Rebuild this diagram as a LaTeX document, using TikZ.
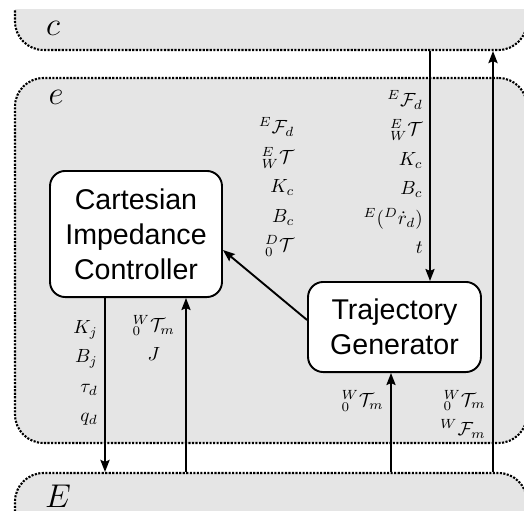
\documentclass[tikz,border=0pt]{standalone}
\usepackage{fontspec}
\newfontfamily\boxfont{Liberation Sans}
\usetikzlibrary{positioning,fit,calc,arrows.meta,backgrounds}
\definecolor{regionFill}{gray}{0.90}
\definecolor{boxFill}{gray}{1}

\begin{document}
\begin{tikzpicture}[
	x=0.525pt, y=-0.525pt,
	>={Stealth[length=6.3pt, width=4.8pt, inset=1pt]},
	region/.style={draw, line width=1.1pt, dash pattern=on 1.1pt off 0.75pt,
		fill=regionFill, rounded corners=15pt, inner sep=0pt},
	regionlabel/.style={font=\LARGE, inner sep=0pt},
	block/.style={draw, line width=1pt, fill=boxFill, rounded corners=8pt,
		align=center, font=\boxfont\fontsize{15}{18.4}\selectfont},
	sig/.style={->, line width=1pt},
	lbl/.style={font=\fontsize{10}{15.5}\selectfont, align=right},
	]
	\useasboundingbox (0,0) rectangle (524,511);
	\begin{scope}
	\clip (0,9) rectangle (524,511);
	\node [region, fit={(15,-40) (527,50)}] (cReg) {};
	\node [region, fit={(15,78) (527,443)}] (eReg) {};
	\node [region, fit={(15,473) (527,560)}] (EReg) {};
	\end{scope}
	\node [regionlabel] (cName) at (53,28) {$c$};
	\node [regionlabel] (eName) at (56,97) {$e$};
	\node [regionlabel] (EName) at (58,496) {$E$};
	
	\node [block, minimum width=90.3pt, minimum height=66.2pt] (cic) at (136,234) {Cartesian\\Impedance\\Controller};
	\node [block, minimum width=90.8pt, minimum height=47.3pt] (tg) at (394.5,327) {Trajectory\\Generator};
	
	\coordinate (cicOut) at ($(cic.south)+(-31,0)$);
	\coordinate (cicIn) at ($(cic.south)+(50,0)$);
	\coordinate (tgIn) at ($(tg.south)+(-3.5,0)$);
	\coordinate (tgCmd) at ($(tg.north)+(35.5,0)$);
	\coordinate (fbk) at (493,300);
	
	\draw [sig] (cicOut) -- (cicOut |- EReg.north)
		node [lbl, pos=.43, left] (lblJoint) {$K_j$\\$B_j$\\$\tau_d$\\$q_d$};
	\draw [sig] (cicIn |- EReg.north) -- (cicIn)
		node [lbl, pos=.77, left, align=center, xshift=-2pt] (lblMeas) {${}^{W}_{0}\mathcal{T}_m$\\$J$};
	\draw [sig] (tgIn |- EReg.north) -- (tgIn)
		node [lbl, pos=.72, left] (lblPose) {${}^{W}_{0}\mathcal{T}_m$};
	\draw [sig] (tgCmd |- cReg.south) -- (tgCmd)
		node [lbl, pos=.526, left] (lblCmd) {${}^{E}\mathcal{F}_d$\\${}^{E}_{W}\mathcal{T}$\\$K_c$\\$B_c$\\${}^{E}({}^{D}\dot{r}_d)$\\$t$};
	\draw [sig] (fbk |- EReg.north) -- (fbk |- cReg.south)
		node [lbl, pos=.137, left] (lblFbk) {${}^{W}_{0}\mathcal{T}_m$\\${}^{W}\mathcal{F}_m$};
	\draw [sig] ($(tg.west)+(0,-7)$) -- ($(cic.east)+(0,16)$);
	\node [lbl, anchor=east] (lblRef) at (301,187) {${}^{E}\mathcal{F}_d$\\${}^{E}_{W}\mathcal{T}$\\$K_c$\\$B_c$\\${}^{D}_{0}\mathcal{T}$};
\end{tikzpicture}
\end{document}
